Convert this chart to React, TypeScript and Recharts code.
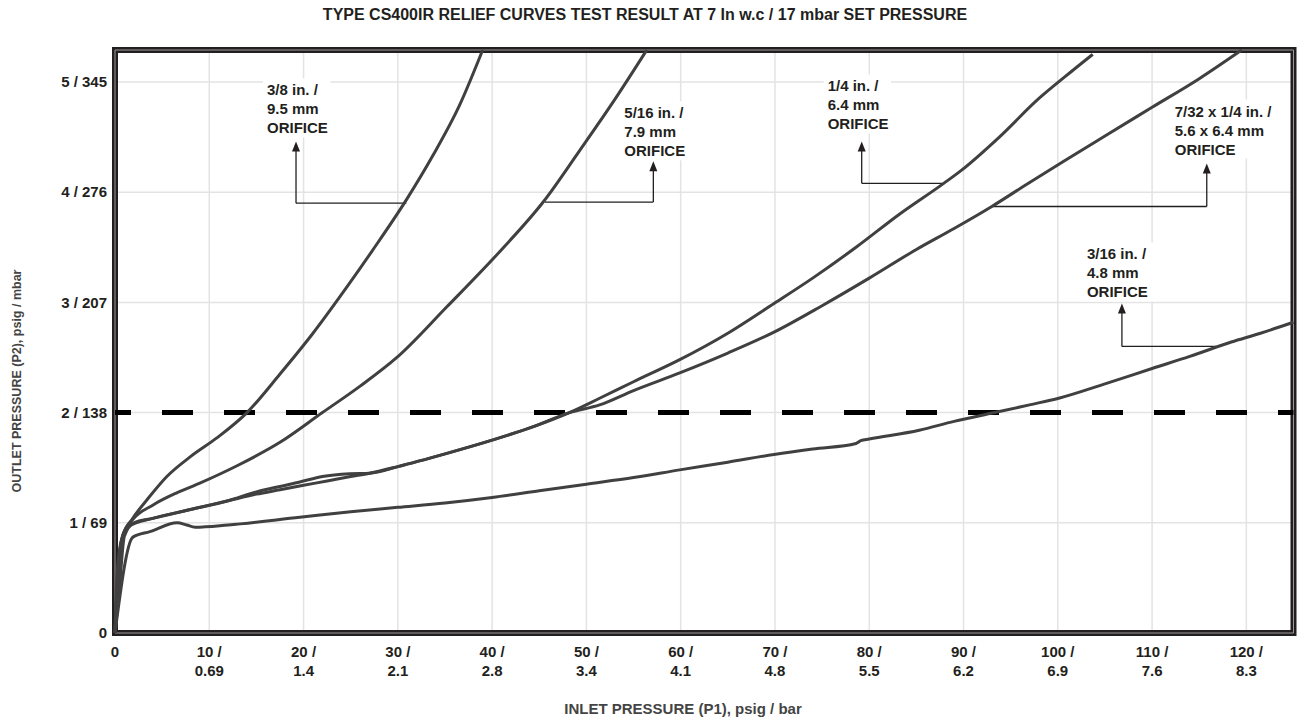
import { LineChart, Line, XAxis, YAxis, CartesianGrid, ReferenceLine, ReferenceArea } from "recharts";

const FONT = '"Liberation Sans", Arial, Helvetica, sans-serif';
const INK = "#231f20";
const CURVE = "#404040";

// axis ticks (psig with metric equivalent)
const xTicks = [0, 10, 20, 30, 40, 50, 60, 70, 80, 90, 100, 110, 120];
const xTickPsig = ["0", "10 /", "20 /", "30 /", "40 /", "50 /", "60 /", "70 /", "80 /", "90 /", "100 /", "110 /", "120 /"];
const xTickBar = ["", "0.69", "1.4", "2.1", "2.8", "3.4", "4.1", "4.8", "5.5", "6.2", "6.9", "7.6", "8.3"];
const yTicks = [0, 1, 2, 3, 4, 5];
const yTickLabels = ["0", "1 / 69", "2 / 138", "3 / 207", "4 / 276", "5 / 345"];

const X_MAX = 125;
const Y_MAX = 5.29;
const setPressureLine = 2;

// 3/8 in. / 9.5 mm orifice
const inlet38 = [0, 0.3, 0.8, 1.8, 3.5, 5.5, 8, 10.8, 14, 17.5, 21, 24.6, 27.3, 30.9, 33.7, 36.5, 39];
const outlet38 = [0, 0.55, 0.88, 1.03, 1.22, 1.42, 1.6, 1.77, 2.0, 2.35, 2.72, 3.14, 3.47, 3.93, 4.33, 4.78, 5.29];

// 5/16 in. / 7.9 mm orifice
const inlet516 = [0, 0.4, 0.9, 2, 4, 6.5, 9, 13, 17.5, 22, 26, 29.9, 35.2, 40.8, 45.5, 49.3, 53, 56.4];
const outlet516 = [0, 0.6, 0.9, 1.04, 1.16, 1.27, 1.36, 1.52, 1.73, 2.0, 2.24, 2.5, 2.96, 3.46, 3.92, 4.38, 4.84, 5.29];

// 1/4 in. / 6.4 mm orifice
const inlet14 = [0, 0.2, 0.7, 1.5, 4, 8, 12, 15, 17.5, 20, 22.5, 25, 27, 30, 35.2, 40, 44.3, 48.2, 51.4, 55, 59.9, 65, 69.9, 74, 78.6, 83.2, 87.9, 89.8, 93.8, 98, 100.8, 103.7];
const outlet14 = [0, 0.5, 0.85, 0.97, 1.04, 1.12, 1.2, 1.26, 1.3, 1.34, 1.38, 1.42, 1.45, 1.51, 1.63, 1.75, 1.87, 2.0, 2.13, 2.28, 2.48, 2.72, 2.99, 3.22, 3.5, 3.8, 4.08, 4.2, 4.5, 4.85, 5.05, 5.25];

// 7/32 x 1/4 in. / 5.6 x 6.4 mm orifice
const inlet732 = [0, 0.5, 1.0, 2, 4, 8, 12, 15, 17.5, 19.6, 22, 24.9, 27, 30, 35.2, 40, 44.3, 48.2, 51.4, 55, 59.9, 65, 69.9, 75, 80, 85, 89, 93, 96.5, 100.8, 105, 110, 115, 119.5];
const outlet732 = [0, 0.45, 0.88, 1.0, 1.04, 1.12, 1.2, 1.28, 1.33, 1.37, 1.42, 1.445, 1.45, 1.51, 1.63, 1.75, 1.87, 2.0, 2.07, 2.2, 2.36, 2.54, 2.73, 2.97, 3.22, 3.48, 3.67, 3.87, 4.06, 4.29, 4.51, 4.77, 5.03, 5.29];

// 3/16 in. / 4.8 mm orifice
const inlet316 = [0, 1.9, 3.7, 6.6, 7.6, 8.5, 12, 19.6, 25, 30, 35, 40, 45, 50, 55, 59.9, 65, 69.9, 74, 78.6, 79.1, 80, 85.3, 89, 93.3, 97, 100.1, 105, 110, 114, 118.4, 121.5, 125];
const outlet316 = [0, 0.87, 0.92, 1.0, 0.98, 0.96, 0.98, 1.05, 1.1, 1.14, 1.18, 1.23, 1.29, 1.35, 1.41, 1.48, 1.55, 1.62, 1.67, 1.72, 1.745, 1.76, 1.84, 1.92, 2.0, 2.07, 2.13, 2.26, 2.4, 2.51, 2.64, 2.72, 2.82];

const toPoints = (xs: number[], ys: number[]) => xs.map((p1, i) => ({ p1, p2: ys[i] }));

const series = [
  { name: "3/8 in.", data: toPoints(inlet38, outlet38) },
  { name: "5/16 in.", data: toPoints(inlet516, outlet516) },
  { name: "1/4 in.", data: toPoints(inlet14, outlet14) },
  { name: "7/32 x 1/4 in.", data: toPoints(inlet732, outlet732) },
  { name: "3/16 in.", data: toPoints(inlet316, outlet316) },
];

// callouts: arrow at arrowX from elbowY up to tipY, leader from arrowX to endX at elbowY
const callouts = [
  { lines: ["3/8 in. /", "9.5 mm", "ORIFICE"], arrowX: 19.2, tipY: 4.46, elbowY: 3.9, endX: 30.9, dx: -29, dy: -14 },
  { lines: ["5/16 in. /", "7.9 mm", "ORIFICE"], arrowX: 57.1, tipY: 4.28, elbowY: 3.91, endX: 45.6, dx: -29, dy: -11 },
  { lines: ["1/4 in. /", "6.4 mm", "ORIFICE"], arrowX: 79.2, tipY: 4.46, elbowY: 4.08, endX: 87.9, dx: -34, dy: -18 },
  { lines: ["7/32 x 1/4 in. /", "5.6 x 6.4 mm", "ORIFICE"], arrowX: 115.8, tipY: 4.26, elbowY: 3.87, endX: 93, dx: -32, dy: -15 },
  { lines: ["3/16 in. /", "4.8 mm", "ORIFICE"], arrowX: 106.8, tipY: 2.99, elbowY: 2.6, endX: 116.8, dx: -35, dy: -12 },
];

function XTick(props: any) {
  const { x, y, index } = props;
  return (
    <text x={x} textAnchor="middle" fontFamily={FONT} fontSize={15} fontWeight="bold" fill={INK}>
      <tspan x={x} y={y + 22}>{xTickPsig[index]}</tspan>
      <tspan x={x} y={y + 41}>{xTickBar[index]}</tspan>
    </text>
  );
}

function arrowShape(c: (typeof callouts)[number]) {
  return (props: any) => {
    const { x1, y1, x2, y2 } = props;
    const tipX = x2;
    const tipY = Math.min(y1, y2);
    const baseY = Math.max(y1, y2);
    const lh = 19;
    const n = c.lines.length;
    const tx = tipX + c.dx;
    const lastY = tipY + c.dy;
    const w = Math.max(...c.lines.map((l) => l.length)) * 6.6 + 8;
    return (
      <g>
        <rect x={tx - 4} y={lastY - (n - 1) * lh - 11} width={w} height={(n - 1) * lh + 21} fill="#fff" />
        <line x1={tipX} y1={baseY} x2={tipX} y2={tipY + 8} stroke={INK} strokeWidth={1.3} />
        <path d={`M${tipX},${tipY} L${tipX - 4},${tipY + 10} L${tipX + 4},${tipY + 10} Z`} fill={INK} />
        <text fontFamily={FONT} fontSize={15} fontWeight="bold" fill={INK} dominantBaseline="central">
          {c.lines.map((l, i) => (
            <tspan key={i} x={tx} y={lastY - (n - 1 - i) * lh}>
              {l}
            </tspan>
          ))}
        </text>
      </g>
    );
  };
}

export default function App() {
  return (
    <div style={{ position: "absolute", left: 0, top: 0, width: 1299, height: 723, background: "#fff", fontFamily: FONT }}>
      <div
        style={{
          position: "absolute",
          top: 15,
          left: 645,
          transform: "translate(-50%, -50%)",
          whiteSpace: "nowrap",
          fontSize: 16,
          fontWeight: "bold",
          color: INK,
        }}
      >
        TYPE CS400IR RELIEF CURVES TEST RESULT AT 7 In w.c / 17 mbar SET PRESSURE
      </div>
      <div
        style={{
          position: "absolute",
          left: 17,
          top: 381,
          transform: "translate(-50%, -50%) rotate(-90deg)",
          whiteSpace: "nowrap",
          fontSize: 12.5,
          fontWeight: "bold",
          color: "#444",
        }}
      >
        OUTLET PRESSURE (P2), psig / mbar
      </div>
      <div
        style={{
          position: "absolute",
          left: 683,
          top: 708,
          transform: "translate(-50%, -50%)",
          whiteSpace: "nowrap",
          fontSize: 15,
          fontWeight: "bold",
          color: "#444",
        }}
      >
        INLET PRESSURE (P1), psig / bar
      </div>
      <LineChart width={1299} height={723} margin={{ top: 50, right: 5.5, bottom: 30, left: 55 }}>
        <CartesianGrid stroke="#e3e3e3" strokeWidth={1.5} />
        <XAxis
          type="number"
          dataKey="p1"
          domain={[0, X_MAX]}
          ticks={xTicks}
          tick={<XTick />}
          tickLine={false}
          axisLine={false}
          tickSize={0}
          height={60}
          interval={0}
        />
        <YAxis
          type="number"
          dataKey="p2"
          domain={[0, Y_MAX]}
          ticks={yTicks}
          tickFormatter={(v: number) => yTickLabels[yTicks.indexOf(v)]}
          tick={{ fontFamily: FONT, fontSize: 15, fontWeight: "bold", fill: INK }}
          tickLine={false}
          axisLine={false}
          tickSize={0}
          tickMargin={8}
          width={60}
          interval={0}
        />
        <ReferenceLine
          y={setPressureLine}
          stroke="#000"
          strokeWidth={5}
          strokeDasharray="31 31"
          strokeDashoffset={15}
        />
        {callouts.map((c, i) => (
          <ReferenceLine
            key={"h" + i}
            segment={[
              { x: c.arrowX, y: c.elbowY },
              { x: c.endX, y: c.elbowY },
            ]}
            stroke={INK}
            strokeWidth={1.3}
          />
        ))}
        {callouts.map((c, i) => (
          <ReferenceLine
            key={"v" + i}
            segment={[
              { x: c.arrowX, y: c.elbowY },
              { x: c.arrowX, y: c.tipY },
            ]}
            shape={arrowShape(c)}
          />
        ))}
        {series.map((s) => (
          <Line
            key={s.name}
            name={s.name}
            data={s.data}
            dataKey="p2"
            type="monotone"
            stroke={CURVE}
            strokeWidth={3}
            dot={false}
            activeDot={false}
            isAnimationActive={false}
          />
        ))}
        <ReferenceArea x1={0} x2={X_MAX} y1={0} y2={Y_MAX} fill="none" stroke={INK} strokeWidth={6} ifOverflow="visible" />
        <ReferenceArea x1={0} x2={X_MAX} y1={0} y2={Y_MAX} fill="none" stroke="#9a9a9a" strokeWidth={1} ifOverflow="visible" />
      </LineChart>
    </div>
  );
}
